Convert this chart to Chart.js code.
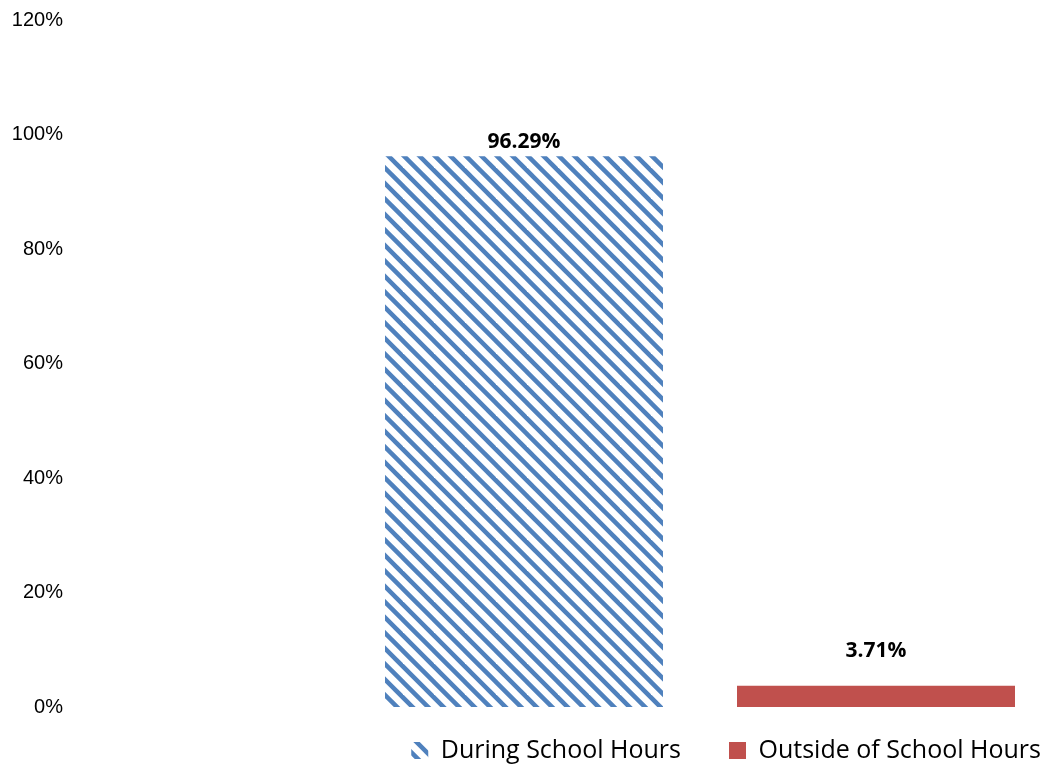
<!DOCTYPE html>
<html>
<head>
<meta charset="utf-8">
<script src="https://cdn.jsdelivr.net/npm/chart.js@4"></script>
<style>
  html, body { margin: 0; padding: 0; background: #fff; }
  #wrap { position: relative; width: 1049px; height: 770px; }
</style>
</head>
<body>
<div id="wrap"><canvas id="chart"></canvas></div>
<script>
const categories = [""];
const seriesNames = ["During School Hours", "Outside of School Hours"];
const duringValues = [96.29];
const outsideValues = [3.71];
const yTicks = [0, 20, 40, 60, 80, 100, 120];

const blue = "#4F81BD";
const red = "#C0504D";

// diagonal stripes like excel "wide downward diagonal"
const makeHatch = () => {
    const size = 31;
    const c = document.createElement("canvas");
    c.width = size;
    c.height = size;
    const g = c.getContext("2d");
    g.strokeStyle = blue;
    g.lineWidth = 4.5;
    const step = size / 2;
    for (let k = -3; k <= 3; k++) {
        g.beginPath();
        g.moveTo(-size, -size + k * step);
        g.lineTo(2 * size, 2 * size + k * step);
        g.stroke();
    }
    return g.createPattern(c, "repeat");
};

const hatch = makeHatch();

// value labels above bars
const labelOffsets = [14.5, 35];
const barLabels = {
    id: "barLabels",
    afterDatasetsDraw(chart) {
        const ctx = chart.ctx;
        ctx.save();
        ctx.font = "bold 21px 'Open Sans'";
        ctx.fillStyle = "#000";
        ctx.textAlign = "center";
        ctx.textBaseline = "middle";
        chart.data.datasets.forEach((ds, i) => {
            chart.getDatasetMeta(i).data.forEach((bar, j) => {
                ctx.fillText(ds.data[j].toFixed(2) + "%", bar.x, bar.y - labelOffsets[i]);
            });
        });
        ctx.restore();
    },
};

// legend sits to the right, under the bars
const legendShift = {
    id: "legendShift",
    afterLayout(chart) {
        chart.legend.left += 40;
        chart.legend.right += 40;
        chart.legend.top -= 17;
        chart.legend.bottom -= 17;
    },
};

const config = {
    type: "bar",
    data: {
        labels: categories,
        datasets: [
            {
                label: seriesNames[0],
                data: duringValues,
                backgroundColor: hatch,
                borderWidth: 0,
            },
            {
                label: seriesNames[1],
                data: outsideValues,
                backgroundColor: red,
                borderWidth: 0,
            },
        ],
    },
    options: {
        responsive: true,
        maintainAspectRatio: false,
        animation: false,
        categoryPercentage: 704 / 698,
        barPercentage: 278 / 352,
        layout: { padding: { top: 20.5, right: 0, bottom: -20, left: 0 } },
        scales: {
            x: {
                display: false,
            },
            y: {
                min: 0,
                max: 120,
                afterFit: (scale) => {
                    scale.width = 351;
                    scale.paddingTop = 10;
                    scale.paddingBottom = 10;
                },
                afterBuildTicks: (scale) => {
                    scale.ticks = yTicks.map((v) => ({ value: v }));
                },
                grid: { display: false, drawTicks: false },
                border: { display: false },
                ticks: {
                    padding: 288,
                    color: "#000",
                    font: { family: "Liberation Sans, Arial", size: 20 },
                    callback: (v) => v + "%",
                },
            },
        },
        plugins: {
            tooltip: { enabled: false },
            legend: {
                position: "bottom",
                align: "end",
                labels: {
                    color: "#000",
                    boxWidth: 17,
                    boxHeight: 17,
                    padding: 48,
                    font: { family: "Open Sans", size: 25 },
                },
            },
        },
    },
    plugins: [barLabels, legendShift],
};

new Chart(document.getElementById("chart"), config);
</script>
</body>
</html>
